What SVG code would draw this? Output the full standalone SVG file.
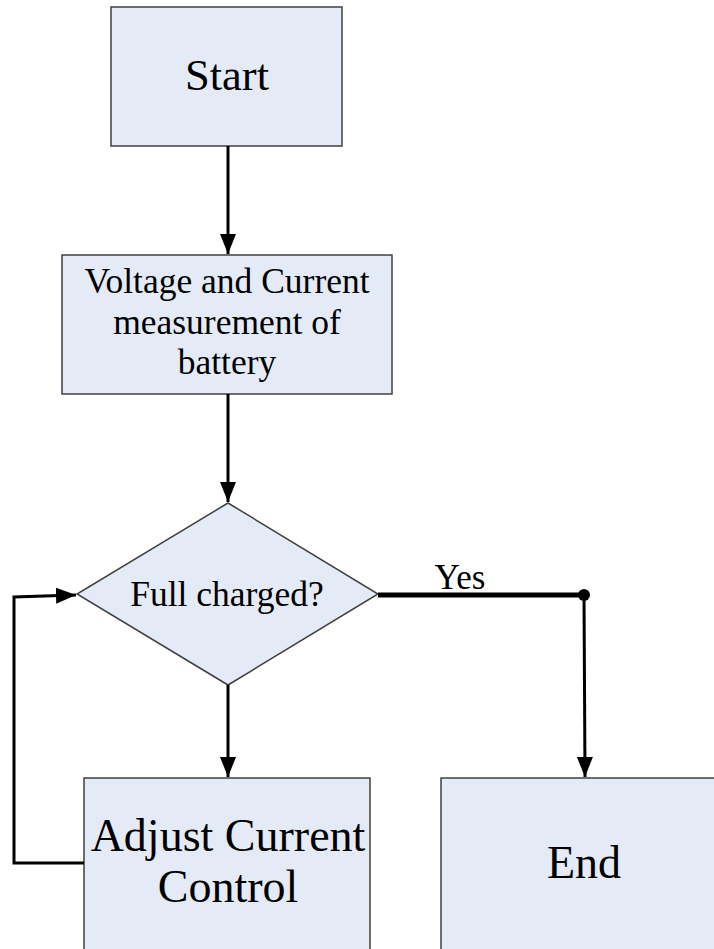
<svg xmlns="http://www.w3.org/2000/svg" width="714" height="949" viewBox="0 0 714 949">
<style>
.box{fill:#E4EBF6;stroke:#404040;stroke-width:1.5}
.t{font-family:"Liberation Serif","Times New Roman",serif;fill:#000;text-anchor:middle}
.c{fill:none;stroke:#000;stroke-width:3}
</style>
<defs>
<marker id="ah" markerUnits="userSpaceOnUse" markerWidth="22" markerHeight="16" refX="20" refY="8" orient="auto">
<path d="M0,0 L20,8 L0,16 Z" fill="#000"/>
</marker>
</defs>
<rect width="714" height="949" fill="#fff"/>
<g id="start">
<rect class="box" x="111" y="7" width="231" height="139"/>
<text class="t" x="227" y="90" font-size="44.5">Start</text>
</g>
<g id="measure">
<rect class="box" x="62" y="255" width="330" height="139"/>
<text class="t" x="227" y="293" font-size="35.5">Voltage and Current</text>
<text class="t" x="227" y="334" font-size="35.5">measurement of</text>
<text class="t" x="227" y="374" font-size="35.5">battery</text>
</g>
<g id="decision">
<polygon class="box" points="228,503 378,594 228,685 77,594"/>
<text class="t" x="227" y="606" font-size="35.5">Full charged?</text>
</g>
<g id="adjust">
<rect class="box" x="84" y="778" width="286" height="190"/>
<text class="t" x="228" y="851" font-size="46">Adjust Current</text>
<text class="t" x="228" y="902" font-size="46">Control</text>
</g>
<g id="end">
<rect class="box" x="441" y="778" width="290" height="190"/>
<text class="t" x="584" y="878" font-size="46">End</text>
</g>
<g id="connectors">
<line class="c" x1="228" y1="146" x2="228" y2="254" marker-end="url(#ah)"/>
<line class="c" x1="228" y1="394" x2="228" y2="502" marker-end="url(#ah)"/>
<line class="c" x1="228" y1="685" x2="228" y2="777" marker-end="url(#ah)"/>
<line x1="378" y1="595" x2="584" y2="595" stroke="#000" stroke-width="5"/>
<circle cx="584" cy="595" r="6" fill="#000"/>
<line class="c" x1="584" y1="595" x2="585" y2="777" marker-end="url(#ah)"/>
<polyline class="c" points="84,863 14,863 14,597 76,595" marker-end="url(#ah)"/>
<text class="t" x="460" y="589" font-size="35">Yes</text>
</g>
</svg>
